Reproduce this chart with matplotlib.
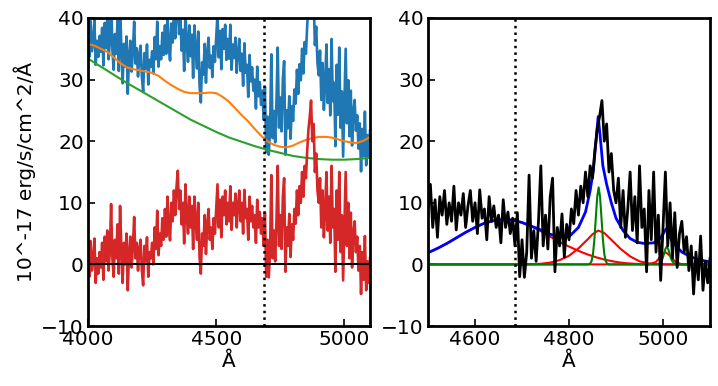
import numpy as np
import matplotlib
matplotlib.use('Agg')
from matplotlib import pyplot as plt

HEII = 4686  # pozycja linii HeII (kropkowana)

# siatka dlugosci fali widma (co 5 A)
wave = np.arange(4000, 5101, 5)

# widmo obserwowane
flux = [37.3, 33.7, 39.5, 34.6, 36.1, 39.7, 32.4, 36.3, 33.7, 37.1,
        34.5, 38.4, 32.3, 39.2, 35.1, 40.0, 33.3, 36.1, 43.8, 34.8,
        31.6, 37.4, 34.2, 39.6, 31.4, 42.2, 35.1, 29.4, 35.8, 32.1,
        37.0, 27.7, 33.9, 36.3, 31.3, 34.7, 39.4, 32.6, 35.1, 30.5,
        34.0, 35.5, 30.4, 28.0, 34.3, 31.8, 35.7, 29.2, 33.2, 32.1,
        34.6, 31.0, 36.9, 33.3, 39.4, 32.1, 35.4, 33.3, 37.6, 34.0,
        38.8, 34.2, 40.5, 35.4, 33.1, 39.1, 36.0, 40.9, 36.7, 41.1,
        43.7, 37.4, 40.3, 34.7, 38.1, 31.4, 41.0, 35.9, 32.9, 38.8,
        33.8, 37.3, 30.3, 38.8, 34.8, 31.8, 37.8, 29.0, 26.3, 32.8,
        30.8, 35.8, 29.5, 34.3, 36.8, 31.9, 33.9, 30.4, 35.4, 32.9,
        36.8, 40.7, 33.6, 37.9, 31.7, 38.2, 35.0, 38.9, 33.2, 36.6,
        33.4, 38.9, 31.6, 35.7, 33.5, 36.8, 31.1, 34.4, 36.6, 31.4,
        34.2, 29.0, 35.9, 31.1, 32.4, 27.2, 34.0, 29.7, 32.0, 28.2,
        30.0, 25.3, 32.1, 27.3, 29.6, 25.9, 28.2, 23.5, 28.8, 18.2,
        24.0, 17.8, 21.8, 34.1, 20.5, 24.9, 19.8, 26.3, 35.2, 22.2,
        27.1, 21.6, 30.1, 33.0, 17.8, 25.0, 22.1, 27.3, 20.4, 25.7,
        23.3, 28.4, 26.1, 31.6, 27.7, 32.5, 29.9, 35.0, 31.0, 36.1,
        34.2, 38.8, 42.3, 44.4, 47.0, 40.5, 43.3, 35.6, 38.6, 32.7,
        30.7, 34.7, 26.7, 32.7, 25.1, 29.7, 35.7, 26.2, 31.7, 24.2,
        36.6, 26.5, 29.5, 19.2, 32.4, 24.3, 35.2, 22.2, 28.1, 17.5,
        26.0, 35.0, 22.9, 29.9, 20.8, 28.2, 19.3, 24.8, 26.7, 21.7,
        24.2, 18.8, 22.9, 15.1, 22.0, 17.6, 24.8, 16.1, 21.0, 17.6,
        21.7]

# widmo po odjeciu kontinuum (residua)
resid = [1.5, -2.0, 3.8, -1.0, 0.5, 4.2, -3.0, 1.0, -1.5, 2.0,
         -0.5, 3.5, -2.5, 4.5, 0.5, 5.5, -1.0, 2.0, 9.8, 1.0,
         -2.0, 4.0, 1.0, 6.5, -1.5, 9.5, 2.5, -3.0, 3.5, 0.0,
         5.0, -4.2, 2.0, 4.5, -0.5, 3.0, 7.7, 1.0, 3.5, -1.0,
         2.5, 4.0, -1.0, -3.4, 3.0, 0.5, 4.4, -2.0, 2.0, 1.0,
         3.5, 0.0, 6.0, 2.5, 8.7, 1.5, 5.0, 3.0, 7.5, 4.0,
         9.0, 4.5, 11.0, 6.0, 3.9, 10.0, 7.0, 12.0, 8.0, 12.5,
         15.2, 9.0, 12.0, 6.5, 10.0, 3.4, 13.0, 8.0, 5.0, 11.0,
         6.0, 9.5, 2.5, 11.0, 7.0, 4.0, 10.0, 1.2, -1.5, 5.0,
         3.0, 8.0, 1.7, 6.5, 9.0, 4.0, 6.0, 2.5, 7.5, 5.0,
         9.0, 13.0, 6.0, 10.5, 4.4, 11.0, 8.0, 12.0, 6.5, 10.0,
         7.0, 12.7, 5.6, 10.0, 8.0, 11.5, 6.0, 9.5, 12.0, 7.0,
         10.0, 5.0, 12.1, 7.5, 9.0, 4.0, 11.0, 7.0, 9.5, 6.0,
         8.0, 3.5, 10.5, 6.0, 8.5, 5.0, 7.5, 3.0, 8.4, -2.0,
         4.0, -2.1, 2.0, 14.5, 1.0, 5.5, 0.5, 7.0, 16.0, 3.0,
         8.0, 2.5, 11.0, 14.0, -1.2, 6.0, 3.0, 8.2, 1.2, 6.5,
         4.0, 9.0, 6.6, 12.0, 8.0, 12.7, 10.0, 15.0, 11.0, 16.0,
         14.0, 18.5, 22.0, 24.0, 26.6, 20.0, 22.8, 15.0, 18.0, 12.0,
         10.0, 14.0, 6.0, 12.0, 4.4, 9.0, 15.0, 5.5, 11.0, 3.5,
         16.0, 6.0, 9.0, -1.2, 12.0, 4.0, 15.0, 2.0, 8.0, -2.6,
         6.0, 15.0, 3.0, 10.0, 1.0, 8.4, -0.5, 5.0, 7.0, 2.0,
         4.5, -1.0, 3.0, -4.8, 2.0, -2.5, 4.6, -4.2, 0.5, -3.0,
         1.0]

# pelny model kontinuum (pomaranczowy)
fit_wave = [4000, 4025, 4050, 4075, 4100, 4125, 4150, 4175, 4200, 4225,
            4250, 4275, 4300, 4325, 4350, 4375, 4400, 4425, 4450, 4475,
            4500, 4525, 4550, 4575, 4600, 4625, 4650, 4675, 4700, 4725,
            4750, 4775, 4800, 4825, 4850, 4875, 4900, 4925, 4950, 4975,
            5000, 5025, 5050, 5075, 5100]
fit = [35.8, 35.5, 35.0, 34.5, 33.6, 32.7, 32.0, 31.7, 31.5, 31.3,
       31.1, 30.6, 29.8, 29.1, 28.5, 28.0, 27.8, 27.8, 27.8, 27.9,
       27.8, 27.2, 26.4, 25.3, 24.2, 23.2, 22.0, 20.9, 20.0, 19.4,
       19.1, 19.0, 19.3, 19.8, 20.2, 20.5, 20.7, 20.7, 20.6, 20.3,
       20.0, 19.8, 19.7, 20.1, 20.7]

# kontinuum potegowe (zielony)
cont_wave = [4000, 4050, 4100, 4150, 4200, 4250, 4300, 4350, 4400, 4450,
             4500, 4550, 4600, 4650, 4700, 4750, 4800, 4850, 4900, 4950,
             5000, 5050, 5100]
cont = [33.4, 32.1, 30.8, 29.5, 28.3, 27.1, 25.9, 24.7, 23.5, 22.5,
        21.5, 20.6, 19.9, 19.2, 18.6, 18.1, 17.6, 17.3, 17.1, 17.0,
        17.0, 17.1, 17.3]

# model linii emisyjnych (prawy panel)
model_wave = [4500, 4520, 4540, 4560, 4580, 4600, 4620, 4640, 4660, 4680,
              4700, 4720, 4740, 4760, 4780, 4800, 4820, 4835, 4845, 4852,
              4858, 4862, 4866, 4872, 4880, 4890, 4900, 4915, 4930, 4945,
              4960, 4980, 4995, 5002, 5007, 5012, 5020, 5040, 5060, 5080,
              5100]
model = [1.9, 2.6, 3.4, 4.3, 5.2, 6.0, 6.7, 7.1, 7.3, 7.2,
         6.8, 6.2, 5.6, 4.9, 4.4, 4.5, 6.0, 8.5, 12.0, 15.5,
         20.5, 24.0, 21.0, 16.0, 13.0, 10.0, 7.5, 5.5, 4.2, 3.6,
         3.4, 3.5, 4.3, 5.2, 5.8, 5.0, 3.6, 2.0, 1.2, 0.7,
         0.4]

# szerokie skladowe (czerwone)
heii_wave = [4500, 4520, 4540, 4560, 4580, 4600, 4620, 4640, 4660, 4680,
             4700, 4720, 4740, 4760, 4780, 4800, 4820, 4840, 4860, 4880,
             4900, 4920, 4950, 5000, 5100]
heii_broad = [1.9, 2.6, 3.4, 4.3, 5.2, 6.0, 6.7, 7.1, 7.3, 7.2,
              6.8, 6.2, 5.4, 4.5, 3.6, 2.9, 2.2, 1.6, 1.1, 0.7,
              0.4, 0.2, 0.05, 0.0, 0.0]
hb_broad_wave = [4500, 4700, 4740, 4760, 4780, 4800, 4820, 4840, 4850, 4862,
                 4875, 4890, 4910, 4930, 4950, 4970, 4990, 5010, 5100]
hb_broad = [0.0, 0.0, 0.1, 0.3, 0.7, 1.4, 2.6, 4.1, 4.9, 5.5,
            5.1, 4.0, 2.5, 1.3, 0.5, 0.15, 0.03, 0.0, 0.0]
oiii_broad_wave = [4500, 4970, 4985, 4995, 5005, 5015, 5025, 5040, 5100]
oiii_broad = [0.0, 0.0, 0.4, 1.3, 2.0, 1.4, 0.5, 0.0, 0.0]

# waskie skladowe (zielone)
narrow_wave = [4500, 4841, 4845, 4848, 4851, 4854, 4857, 4860, 4863, 4866,
               4869, 4872, 4875, 4878, 4881, 4885, 4986, 4990, 4993, 4996,
               4999, 5002, 5005, 5008, 5011, 5014, 5017, 5020, 5023, 5026,
               5030, 5100]
narrow = [0.0, 0.0, 0.14, 0.55, 1.7, 4.1, 7.6, 11.0, 12.5, 11.0,
          7.6, 4.1, 1.7, 0.55, 0.14, 0.0, 0.0, 0.05, 0.2, 0.5,
          0.95, 1.7, 2.5, 2.9, 2.5, 1.7, 0.95, 0.5, 0.2, 0.05,
          0.0, 0.0]

plt.rcParams['font.size'] = 14.5
fig, (ax1, ax2) = plt.subplots(1, 2, figsize=(7.18, 3.86), dpi=100)
plt.subplots_adjust(left=0.1226, right=0.9889, bottom=0.1554, top=0.9534, wspace=0.2057)

# lewy panel - widmo i kontinuum
ax1.plot(wave, flux, color='C0', lw=1.9)
ax1.plot(fit_wave, fit, color='C1', lw=1.5)
ax1.plot(cont_wave, cont, color='C2', lw=1.5)
ax1.plot(wave, resid, color='C3', lw=1.9)
ax1.axhline(0, color='k', lw=1.5)
ax1.axvline(HEII, color='k', ls=':', lw=1.8)
ax1.set_xlim(4000, 5100)
ax1.set_ylim(-10, 40)
ax1.set_xticks([4000, 4500, 5000])
ax1.set_xlabel('Å', labelpad=2)
ax1.set_ylabel('10^-17 erg/s/cm^2/Å')

# prawy panel - dopasowanie linii
sel = wave >= 4500
ax2.plot(heii_wave, heii_broad, color='r', lw=1.5)
ax2.plot(hb_broad_wave, hb_broad, color='r', lw=1.5)
ax2.plot(oiii_broad_wave, oiii_broad, color='r', lw=1.5)
ax2.plot(narrow_wave, narrow, color='g', lw=1.5)
ax2.plot(model_wave, model, color='b', lw=2)
ax2.plot(wave[sel], np.array(resid)[sel], color='k', lw=2)
ax2.axvline(HEII, color='k', ls=':', lw=1.8)
ax2.set_xlim(4500, 5100)
ax2.set_ylim(-10, 40)
ax2.set_xticks([4600, 4800, 5000])
ax2.set_xlabel('Å', labelpad=2)

for ax in (ax1, ax2):
    ax.set_yticks([-10, 0, 10, 20, 30, 40])
    ax.tick_params(direction='in', length=5, width=1.2, pad=3)
    for s in ax.spines.values():
        s.set_linewidth(2)

plt.savefig('out.png', dpi=100)
